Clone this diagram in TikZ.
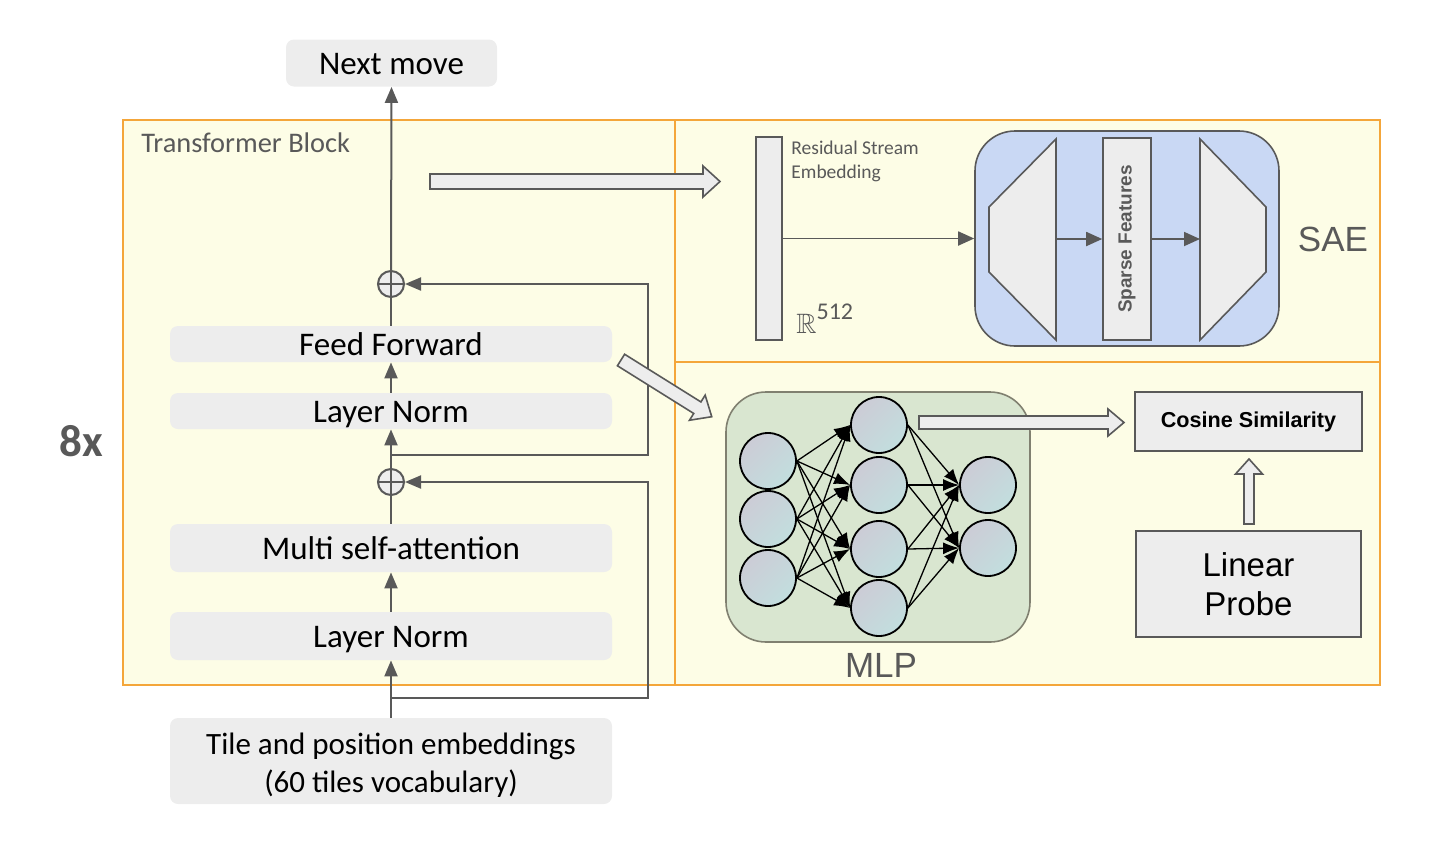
\documentclass[tikz,border=0pt]{standalone}
\usepackage{fontspec}
\usepackage{amssymb}
\setmainfont{Carlito}
\newfontfamily\arialf{Liberation Sans}
\usetikzlibrary{arrows.meta,calc}

\definecolor{blockgray}{RGB}{237,237,237}
\definecolor{txtgray}{RGB}{89,89,89}
\definecolor{linegray}{RGB}{89,89,89}
\definecolor{bgyellow}{RGB}{253,253,230}
\definecolor{orangeb}{RGB}{244,166,58}
\definecolor{saeblue}{RGB}{201,216,244}
\definecolor{mlpgreen}{RGB}{217,230,208}
\definecolor{mlpborder}{RGB}{128,128,112}
\definecolor{nodeA}{RGB}{204,204,214}
\definecolor{nodeB}{RGB}{194,222,222}

\newcommand\hollowarrow[7]{%
 \draw[hollow, shift={(#1,#2)}, rotate=#3] (0,-#5) -- ({#4-#7},-#5) -- ({#4-#7},-#6) -- (#4,0) -- ({#4-#7},#6) -- ({#4-#7},#5) -- (0,#5) -- cycle;}

\begin{document}
\begin{tikzpicture}[x=0.5pt,y=-0.5pt,
  blk/.style={fill=blockgray, rounded corners=4pt, minimum width=221pt, inner sep=0pt, font=\fontsize{16.5}{19}\selectfont, text=black, text height=11.5pt, text depth=0pt},
  garr/.style={draw=linegray, line width=1pt, -{Triangle[length=8pt,width=6.5pt]}},
  gline/.style={draw=linegray, line width=1pt},
  plusnode/.style={circle, draw=linegray, line width=1pt, fill=blockgray, minimum size=13pt, inner sep=0pt,
    path picture={\draw[linegray, line width=1pt] (path picture bounding box.north) -- (path picture bounding box.south) (path picture bounding box.west) -- (path picture bounding box.east);}},
  hollow/.style={draw=linegray, fill=blockgray, line width=0.8pt, line join=miter},
  neuron/.style={circle, draw=black, line width=0.9pt, minimum size=28pt, inner sep=0pt, top color=nodeA, bottom color=nodeB, shading angle=45},
  narr/.style={draw=black, line width=0.65pt, -{Latex[length=8pt,width=6pt]}},
  sarr/.style={draw=linegray, line width=0.9pt, -{Triangle[length=8pt,width=7pt]}},
  panel/.style={draw=orangeb, line width=1pt, fill=bgyellow},
  graybox/.style={draw=linegray, line width=0.8pt, fill=blockgray, inner sep=0pt},
]
\useasboundingbox (0,0) rectangle (1436,842);

% panels
\draw[panel] (123,120) rectangle (675,685);
\draw[panel] (675,120) rectangle (1380,362);
\draw[panel] (675,362) rectangle (1380,685);

% transformer stack
\node[blk, minimum width=105.5pt, minimum height=23.5pt] (next) at (391.5,63) {Next move};
\node[blk, minimum height=18pt] (ff) at (391,344) {Feed Forward};
\node[blk, minimum height=18pt] (ln2) at (391,411) {Layer Norm};
\node[blk, minimum height=24pt] (msa) at (391,548) {Multi self-attention};
\node[blk, minimum height=24pt] (ln1) at (391,636) {Layer Norm};
\node[fill=blockgray, rounded corners=4pt, minimum width=221pt, minimum height=43pt, inner sep=0pt] (emb) at (391,761) {};
\node[align=center, font=\fontsize{15.5}{19}\selectfont, inner sep=0pt] (embtxt) at (391,765) {Tile and position embeddings\\(60 tiles vocabulary)};
\node[plusnode] (op1) at (391,482) {};
\node[plusnode] (op2) at (391,284) {};

\draw[garr] (emb.north) -- (ln1.south);
\draw[garr] (ln1.north) -- (msa.south);
\draw[gline] (msa.north) -- (op1.south);
\draw[garr] (op1.north) -- (ln2.south);
\draw[garr] (ln2.north) -- (ff.south);
\draw[gline] (ff.north) -- (op2.south);
\draw[garr] (op2.north) -- (next.south);
\coordinate (s1) at (391,698); \coordinate (s1r) at (648,698);
\draw[garr] (s1) -- (s1r) |- (op1.east);
\coordinate (s2) at (391,455); \coordinate (s2r) at (648,455);
\draw[garr] (s2) -- (s2r) |- (op2.east);

\node[anchor=west, text=txtgray, font=\fontsize{14.2}{16}\selectfont, inner sep=0pt] (tbl) at (141,143) {Transformer Block};
\node[text=txtgray, font=\bfseries\fontsize{22.5}{24}\selectfont] (rep) at (81,441) {8x};

% SAE panel
\node[graybox, minimum width=13pt, minimum height=101.5pt] (rs) at (769,238.5) {};
\node[anchor=north west, align=left, text=txtgray, font=\fontsize{9.75}{12}\selectfont, inner sep=0pt] (rslab) at (791,141) {Residual Stream\\Embedding};
\node[anchor=west, inner sep=0pt, text=txtgray] (dim) at (796,319) {\fontsize{14}{14}\selectfont$\mathbb{R}$\raisebox{7pt}{\fontsize{12}{12}\selectfont 512}};
\node[draw=linegray, line width=0.8pt, fill=saeblue, rounded corners=20pt, minimum width=152pt, minimum height=107.5pt] (sae) at (1127,238.5) {};
\draw[sarr] (rs.east) -- (sae.west);
\draw[hollow] (989,207) -- (1056,139) -- (1056,340) -- (989,272) -- cycle;
\draw[hollow] (1200,139) -- (1266,207) -- (1266,272) -- (1200,340) -- cycle;
\node[graybox, minimum width=24pt, minimum height=101pt] (sf) at (1127,239) {};
\node[rotate=90, font=\arialf\bfseries\fontsize{9.5}{11}\selectfont, text=txtgray] (sflab) at (sf.center) {Sparse Features};
\coordinate (encR) at (1056,239); \coordinate (decL) at (1200,239);
\draw[sarr] (encR) -- (sf.west);
\draw[sarr] (sf.east) -- (decL);
\node[font=\arialf\fontsize{17.5}{20}\selectfont, text=txtgray] (saelab) at (1333,239) {SAE};

% MLP panel
\node[draw=mlpborder, line width=0.8pt, fill=mlpgreen, rounded corners=20pt, minimum width=152pt, minimum height=125pt] (mlp) at (878,517) {};
\node[neuron] (n11) at (768,461) {};
\node[neuron] (n12) at (768,519) {};
\node[neuron] (n13) at (768,578) {};
\node[neuron] (n21) at (879,425) {};
\node[neuron] (n22) at (879,485) {};
\node[neuron] (n23) at (879,549) {};
\node[neuron] (n24) at (879,608) {};
\node[neuron] (n31) at (988,485) {};
\node[neuron] (n32) at (988,548) {};
\foreach \i in {1,2,3}{\foreach \j in {1,2,3,4}{\draw[narr] (n1\i.east) -- (n2\j.west);}}
\foreach \j in {1,2,3,4}{\foreach \k in {1,2}{\draw[narr] (n2\j.east) -- (n3\k.west);}}
\node[font=\arialf\fontsize{17.5}{20}\selectfont, text=txtgray] (mlplab) at (881,665) {MLP};

% cosine / probe
\node[graybox, minimum width=113.5pt, minimum height=29.5pt, font=\arialf\bfseries\fontsize{10.8}{13}\selectfont] (cos) at (1248.5,421.5) {Cosine Similarity};
\node[graybox, minimum width=112.5pt, minimum height=53pt, align=center, font=\arialf\fontsize{16.5}{19.5}\selectfont] (lp) at (1248.5,584) {Linear\\Probe};

% hollow arrows
\hollowarrow{430}{181.5}{0}{290}{7.5}{15.5}{17}
\hollowarrow{621}{360}{-32}{107}{6.8}{14.8}{17}
\hollowarrow{919}{422.5}{0}{205}{6.5}{13.5}{16}
\hollowarrow{1249}{524}{90}{65}{5}{13.5}{15}
\end{tikzpicture}
\end{document}
